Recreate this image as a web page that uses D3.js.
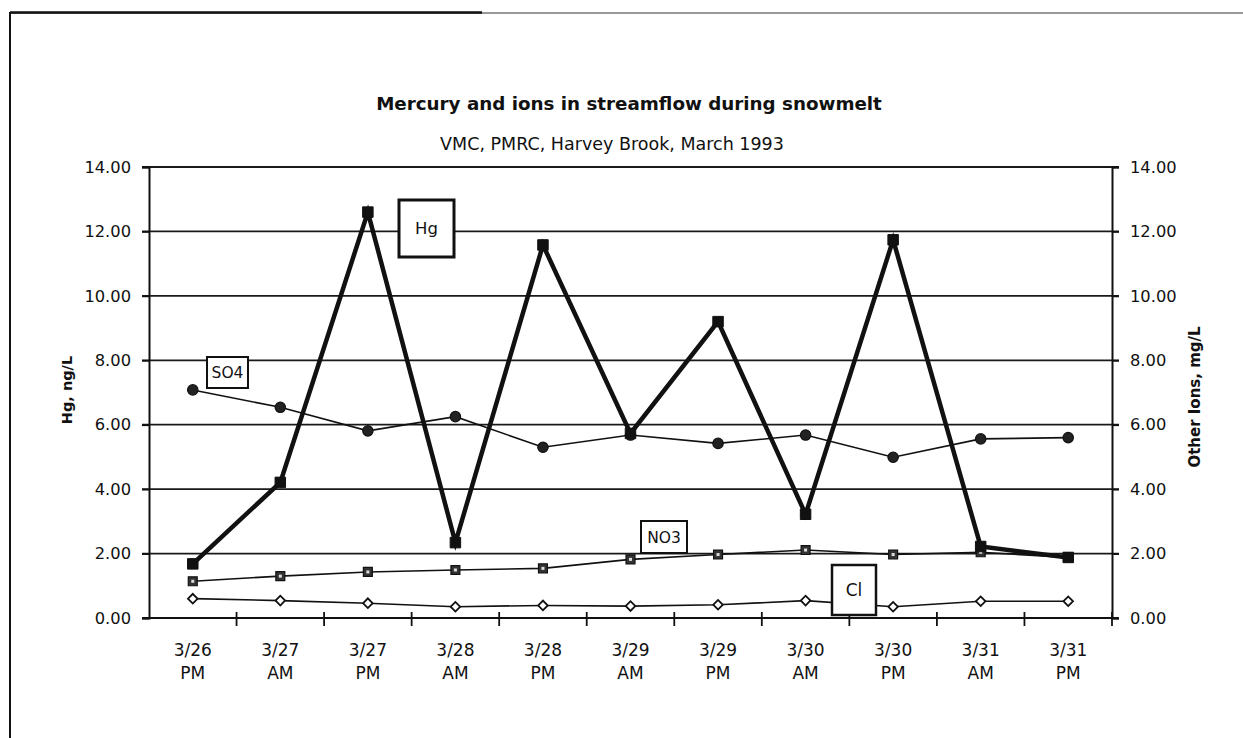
<!DOCTYPE html>
<html>
<head>
<meta charset="utf-8">
<script src="https://cdn.jsdelivr.net/npm/d3@7"></script>
<style>
  html, body { margin: 0; padding: 0; background: #fff; }
  svg { display: block; }
  text { font-family: "DejaVu Sans", sans-serif; fill: #111; }
</style>
</head>
<body>
<svg id="chart" width="1243" height="738"></svg>
<script>
// ---- data ----
const dates   = ["3/26","3/27","3/27","3/28","3/28","3/29","3/29","3/30","3/30","3/31","3/31"];
const periods = ["PM","AM","PM","AM","PM","AM","PM","AM","PM","AM","PM"];
const hg  = [1.68, 4.21, 12.6, 2.34, 11.58, 5.73, 9.2, 3.22, 11.74, 2.22, 1.88];
const so4 = [7.08, 6.54, 5.81, 6.25, 5.30, 5.68, 5.42, 5.68, 4.99, 5.56, 5.60];
const no3 = [1.14, 1.30, 1.43, 1.49, 1.54, 1.82, 1.97, 2.11, 1.97, 2.04, 1.88];
const cl  = [0.60, 0.54, 0.46, 0.35, 0.39, 0.37, 0.41, 0.54, 0.35, 0.52, 0.52];
const yTicks = [0, 2, 4, 6, 8, 10, 12, 14];
const title = "Mercury and ions in streamflow during snowmelt";
const subtitle = "VMC, PMRC, Harvey Brook, March 1993";
const leftTitle = "Hg, ng/L";
const rightTitle = "Other Ions, mg/L";

// ---- layout ----
const svg = d3.select("#chart");
const L = 149, R = 1112, T = 167, B = 618;
const x = d3.scaleBand().domain(d3.range(dates.length)).range([L, R]);
const cx = i => x(i) + x.bandwidth() / 2;
const yL = d3.scaleLinear().domain([0, 14]).range([B, T]);
const yR = d3.scaleLinear().domain([0, 14]).range([B, T]);

// frame
svg.append("line").attr("x1", 10).attr("x2", 1243).attr("y1", 13).attr("y2", 13)
  .attr("stroke", "#777").attr("stroke-width", 1.5);
svg.append("line").attr("x1", 10).attr("x2", 482).attr("y1", 12.5).attr("y2", 12.5)
  .attr("stroke", "#111").attr("stroke-width", 2.5);
svg.append("line").attr("x1", 10).attr("x2", 10).attr("y1", 12).attr("y2", 738)
  .attr("stroke", "#111").attr("stroke-width", 2);

// titles
svg.append("text").attr("x", 629).attr("y", 110).attr("text-anchor", "middle")
  .attr("font-weight", "bold").attr("font-size", 18.3).text(title);
svg.append("text").attr("x", 612).attr("y", 150).attr("text-anchor", "middle")
  .attr("font-size", 17.5).text(subtitle);

// gridlines
svg.append("g").selectAll("line").data(yTicks.filter(d => d > 0)).join("line")
  .attr("x1", L - 7).attr("x2", R + 7)
  .attr("y1", d => yL(d)).attr("y2", d => yL(d))
  .attr("stroke", "#1a1a1a").attr("stroke-width", 1.8);

// left axis
const axL = svg.append("g").attr("transform", `translate(${L},0)`)
  .call(d3.axisLeft(yL).tickValues(yTicks).tickFormat(d3.format(".2f")).tickSize(7).tickPadding(11));
// right axis
const axR = svg.append("g").attr("transform", `translate(${R},0)`)
  .call(d3.axisRight(yR).tickValues(yTicks).tickFormat(d3.format(".2f")).tickSize(7).tickPadding(11));
[axL, axR].forEach(a => {
  a.select(".domain").attr("stroke", "#111").attr("stroke-width", 2);
  a.selectAll(".tick line").attr("stroke", "#111").attr("stroke-width", 1.8);
  a.selectAll(".tick text").attr("font-size", 16.3).attr("font-family", "DejaVu Sans").attr("fill", "#111");
});

// x axis
const xAxis = svg.append("g").attr("transform", `translate(0,${B})`);
xAxis.append("line").attr("x1", L - 7).attr("x2", R + 7).attr("y1", 0).attr("y2", 0)
  .attr("stroke", "#111").attr("stroke-width", 2);
xAxis.selectAll("line.tk").data(d3.range(1, dates.length + 1)).join("line").attr("class", "tk")
  .attr("x1", i => x(i - 1) + x.bandwidth()).attr("x2", i => x(i - 1) + x.bandwidth())
  .attr("y1", -6).attr("y2", 8).attr("stroke", "#111").attr("stroke-width", 1.8);
const xl = xAxis.selectAll("text.xl").data(d3.range(dates.length)).join("text").attr("class", "xl")
  .attr("text-anchor", "middle").attr("font-size", 17);
xl.append("tspan").attr("x", cx).attr("y", 38).text(i => dates[i]);
xl.append("tspan").attr("x", cx).attr("y", 61).text(i => periods[i]);

// axis titles
svg.append("text").attr("transform", `translate(72,390) rotate(-90)`).attr("text-anchor", "middle")
  .attr("font-weight", "bold").attr("font-size", 14.5).text(leftTitle);
svg.append("text").attr("transform", `translate(1200,397) rotate(-90)`).attr("text-anchor", "middle")
  .attr("font-weight", "bold").attr("font-size", 15).text(rightTitle);

// series
function series(vals, scale, width, symType, symSize, rot, fill, stroke, sw, inner) {
  const g = svg.append("g");
  g.append("path").datum(vals)
    .attr("d", d3.line().x((d, i) => cx(i)).y(d => scale(d)))
    .attr("fill", "none").attr("stroke", "#111").attr("stroke-width", width).attr("stroke-linejoin", "miter");
  g.selectAll("path.m").data(vals).join("path").attr("class", "m")
    .attr("transform", (d, i) => `translate(${cx(i)},${scale(d)}) rotate(${rot})`)
    .attr("d", d3.symbol().type(symType).size(symSize))
    .attr("fill", fill).attr("stroke", stroke).attr("stroke-width", sw);
  if (inner) {
    g.selectAll("rect.in").data(vals).join("rect").attr("class", "in")
      .attr("x", (d, i) => cx(i) - 1.5).attr("y", d => scale(d) - 1.5)
      .attr("width", 3).attr("height", 3).attr("fill", inner);
  }
}
series(cl,  yR, 1.6, d3.symbolSquare, 46, 45, "#fff", "#111", 1.8);
series(no3, yR, 1.6, d3.symbolSquare, 80, 0, "#333", "#111", 1.2, "#ddd");
series(so4, yR, 1.6, d3.symbolCircle, 85, 0, "#222", "#111", 1.2);
series(hg,  yL, 4.5, d3.symbolSquare, 110, 0, "#111", "#111", 1);

// label boxes
function labelBox(x0, y0, w, h, txt, sw, fs) {
  svg.append("rect").attr("x", x0).attr("y", y0).attr("width", w).attr("height", h)
    .attr("fill", "#fff").attr("stroke", "#111").attr("stroke-width", sw);
  svg.append("text").attr("x", x0 + w / 2).attr("y", y0 + h / 2 + fs * 0.36)
    .attr("text-anchor", "middle").attr("font-size", fs).text(txt);
}
labelBox(399, 200, 55, 57, "Hg", 3, 16.5);
labelBox(207, 357, 41, 31, "SO4", 2, 15.5);
labelBox(641, 521, 46, 32, "NO3", 2, 15.5);
labelBox(832, 565, 44, 50, "Cl", 2.5, 17);
</script>
</body>
</html>
